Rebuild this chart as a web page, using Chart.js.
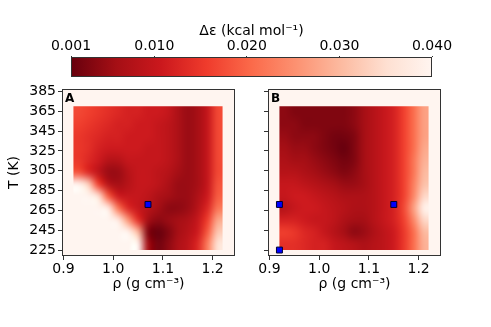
<!DOCTYPE html>
<html>
<head>
<meta charset="utf-8">
<script src="https://cdn.jsdelivr.net/npm/chart.js@4"></script>
<style>
  html, body { margin: 0; padding: 0; background: #fff; }
  #wrap { position: relative; width: 491px; height: 327px; }
  #wrap canvas { position: absolute; left: 0; top: 0; }
</style>
</head>
<body>
<div id="wrap">
  <canvas id="panelA" width="491" height="327"></canvas>
  <canvas id="panelB" width="491" height="327"></canvas>
  <canvas id="cbar" width="491" height="327"></canvas>
</div>
<script>
// grid of the maps: density columns (centres) and temperature rows (centres, top to bottom)
const rhoCenters = [0.93, 0.95, 0.97, 0.99, 1.01, 1.03, 1.05, 1.07, 1.09, 1.11, 1.13, 1.15, 1.17, 1.19, 1.21];
const tempCenters = [364, 352, 340, 328, 316, 303, 291, 279, 267, 255, 243, 231];
const rhoExtent = [0.92, 1.22];
const tempExtent = [225, 370];

// delta epsilon (kcal/mol), panel A
const deltaA = [
  [0.017, 0.016, 0.015, 0.014, 0.013, 0.012, 0.012, 0.011, 0.011, 0.010, 0.007, 0.005, 0.006, 0.010, 0.017],
  [0.016, 0.015, 0.014, 0.013, 0.012, 0.012, 0.011, 0.011, 0.010, 0.009, 0.007, 0.005, 0.006, 0.010, 0.017],
  [0.015, 0.014, 0.013, 0.012, 0.012, 0.011, 0.011, 0.011, 0.010, 0.009, 0.007, 0.005, 0.006, 0.010, 0.017],
  [0.015, 0.014, 0.012, 0.011, 0.011, 0.011, 0.011, 0.010, 0.010, 0.009, 0.007, 0.005, 0.006, 0.010, 0.017],
  [0.015, 0.013, 0.011, 0.008, 0.008, 0.010, 0.010, 0.010, 0.010, 0.009, 0.007, 0.005, 0.006, 0.010, 0.017],
  [0.018, 0.013, 0.009, 0.005, 0.005, 0.008, 0.010, 0.010, 0.009, 0.008, 0.006, 0.005, 0.006, 0.010, 0.017],
  [0.040, 0.033, 0.016, 0.008, 0.006, 0.008, 0.010, 0.010, 0.009, 0.007, 0.005, 0.005, 0.006, 0.010, 0.018],
  [0.040, 0.040, 0.036, 0.019, 0.011, 0.010, 0.010, 0.009, 0.007, 0.006, 0.005, 0.005, 0.007, 0.011, 0.019],
  [0.040, 0.040, 0.040, 0.038, 0.022, 0.013, 0.010, 0.008, 0.006, 0.004, 0.004, 0.005, 0.008, 0.013, 0.022],
  [0.040, 0.040, 0.040, 0.040, 0.038, 0.026, 0.014, 0.006, 0.004, 0.005, 0.006, 0.007, 0.010, 0.016, 0.028],
  [0.040, 0.040, 0.040, 0.040, 0.040, 0.040, 0.030, 0.003, 0.001, 0.003, 0.006, 0.008, 0.011, 0.019, 0.032],
  [0.040, 0.040, 0.040, 0.040, 0.040, 0.040, 0.040, 0.006, 0.002, 0.004, 0.007, 0.009, 0.013, 0.023, 0.036]
];

// delta epsilon (kcal/mol), panel B
const deltaB = [
  [0.004, 0.003, 0.003, 0.003, 0.003, 0.003, 0.003, 0.004, 0.006, 0.008, 0.010, 0.012, 0.016, 0.021, 0.027],
  [0.004, 0.004, 0.003, 0.003, 0.003, 0.003, 0.003, 0.004, 0.006, 0.008, 0.010, 0.012, 0.016, 0.021, 0.027],
  [0.005, 0.004, 0.004, 0.004, 0.003, 0.002, 0.002, 0.003, 0.006, 0.008, 0.010, 0.012, 0.016, 0.021, 0.027],
  [0.006, 0.005, 0.005, 0.004, 0.003, 0.002, 0.001, 0.003, 0.006, 0.008, 0.010, 0.012, 0.016, 0.021, 0.028],
  [0.007, 0.006, 0.006, 0.005, 0.004, 0.003, 0.002, 0.003, 0.006, 0.008, 0.010, 0.012, 0.016, 0.022, 0.029],
  [0.008, 0.008, 0.007, 0.006, 0.005, 0.004, 0.003, 0.004, 0.006, 0.008, 0.010, 0.012, 0.016, 0.022, 0.030],
  [0.010, 0.010, 0.009, 0.008, 0.007, 0.006, 0.005, 0.005, 0.006, 0.008, 0.010, 0.012, 0.016, 0.023, 0.031],
  [0.010, 0.011, 0.011, 0.010, 0.009, 0.008, 0.007, 0.007, 0.007, 0.008, 0.010, 0.012, 0.016, 0.024, 0.034],
  [0.008, 0.010, 0.011, 0.011, 0.010, 0.009, 0.008, 0.007, 0.007, 0.008, 0.010, 0.012, 0.017, 0.027, 0.039],
  [0.012, 0.012, 0.011, 0.010, 0.010, 0.009, 0.007, 0.006, 0.006, 0.008, 0.010, 0.012, 0.016, 0.024, 0.034],
  [0.016, 0.015, 0.013, 0.012, 0.010, 0.008, 0.006, 0.004, 0.005, 0.007, 0.009, 0.011, 0.015, 0.021, 0.030],
  [0.014, 0.014, 0.013, 0.012, 0.012, 0.010, 0.009, 0.008, 0.007, 0.008, 0.009, 0.011, 0.015, 0.021, 0.029]
];

// marked state points
const markA_rho = [1.07];
const markA_T = [271];
const markB_rho = [0.92, 1.15, 0.92];
const markB_T = [271, 271, 225];

// axes
const rhoTicks = [0.9, 1.0, 1.1, 1.2];
const tempTicks = [225, 245, 265, 285, 305, 325, 345, 365, 385];
const cbarTicks = [0.001, 0.010, 0.020, 0.030, 0.040];
const cbarRange = [0.001, 0.040];

Chart.defaults.font.family = '"DejaVu Sans", sans-serif';
Chart.defaults.font.size = 14;
Chart.defaults.color = '#000';

const W = 491, H = 327;
const redsR = ['#67000d', '#a50f15', '#cb181d', '#ef3b2c', '#fb6a4a', '#fc9272', '#fcbba1', '#fee0d2', '#fff5f0'];
const rgbStops = redsR.map(h => [1, 3, 5].map(i => parseInt(h.substr(i, 2), 16)));

function cmap(v) {
  let t = (v - cbarRange[0]) / (cbarRange[1] - cbarRange[0]);
  t = Math.max(0, Math.min(1, t)) * (rgbStops.length - 1);
  const i = Math.min(Math.floor(t), rgbStops.length - 2);
  const f = t - i;
  return rgbStops[i].map((c, k) => Math.round(c + (rgbStops[i + 1][k] - c) * f));
}

const frameColor = '#333';
const tickGrid = { drawOnChartArea: false, drawTicks: true, tickLength: 4, color: frameColor, lineWidth: 1 };

function heatmapPlugin(grid, letter) {
  return {
    id: 'heatmap' + letter,
    beforeDatasetsDraw(chart) {
      const { ctx, chartArea: a, scales: { x, y } } = chart;
      ctx.save();
      ctx.fillStyle = '#fff5f0';
      ctx.fillRect(a.left, a.top, a.right - a.left, a.bottom - a.top);
      // small image, one pixel per cell, edge padded so smoothing clamps
      const nr = grid.length, nc = grid[0].length;
      const off = document.createElement('canvas');
      off.width = nc + 2; off.height = nr + 2;
      const octx = off.getContext('2d');
      const img = octx.createImageData(nc + 2, nr + 2);
      for (let r = 0; r < nr + 2; r++) {
        for (let c = 0; c < nc + 2; c++) {
          const rr = Math.min(Math.max(r - 1, 0), nr - 1);
          const cc = Math.min(Math.max(c - 1, 0), nc - 1);
          const col = cmap(grid[rr][cc]);
          const p = (r * (nc + 2) + c) * 4;
          img.data[p] = col[0]; img.data[p + 1] = col[1]; img.data[p + 2] = col[2]; img.data[p + 3] = 255;
        }
      }
      octx.putImageData(img, 0, 0);
      const x0 = x.getPixelForValue(rhoExtent[0]), x1 = x.getPixelForValue(rhoExtent[1]);
      const y0 = y.getPixelForValue(tempExtent[1]), y1 = y.getPixelForValue(tempExtent[0]);
      ctx.imageSmoothingEnabled = true;
      ctx.imageSmoothingQuality = 'high';
      ctx.beginPath();
      ctx.rect(x0, y0, x1 - x0, y1 - y0);
      ctx.clip();
      ctx.drawImage(off, 1, 1, nc, nr, x0, y0, x1 - x0, y1 - y0);
      ctx.restore();
    },
    afterDraw(chart) {
      const { ctx, chartArea: a } = chart;
      ctx.save();
      ctx.strokeStyle = frameColor;
      ctx.lineWidth = 1;
      ctx.strokeRect(Math.round(a.left) + 0.5, Math.round(a.top) + 0.5,
        Math.round(a.right - a.left) - 1, Math.round(a.bottom - a.top) - 1);
      ctx.fillStyle = '#000';
      ctx.font = 'bold 12px "DejaVu Sans"';
      ctx.textBaseline = 'top';
      ctx.fillText(letter, a.left + 3, a.top + 4);
      ctx.restore();
    }
  };
}

function panel(id, grid, mRho, mT, letter, area, yLabels) {
  const yw = yLabels ? 56 : 6;
  const xh = 37;
  new Chart(document.getElementById(id), {
    type: 'scatter',
    data: {
      datasets: [{
        data: mRho.map((r, i) => ({ x: r, y: mT[i] })),
        pointStyle: 'rect',
        radius: 4.2,
        hoverRadius: 4.2,
        backgroundColor: '#0000ff',
        borderColor: '#000030',
        borderWidth: 1
      }]
    },
    options: {
      responsive: false,
      animation: false,
      events: [],
      layout: { padding: { left: area.left - yw, right: W - area.right, top: area.top, bottom: H - area.bottom - xh } },
      plugins: { legend: { display: false }, tooltip: { enabled: false } },
      scales: {
        x: {
          type: 'linear', min: 0.897, max: 1.245,
          afterBuildTicks: s => { s.ticks = rhoTicks.map(v => ({ value: v })); },
          afterFit: s => { s.height = xh; },
          ticks: { autoSkip: false, maxRotation: 0, padding: 1, callback: v => v.toFixed(1) },
          grid: tickGrid,
          border: { display: false },
          title: { display: true, text: 'ρ (g cm⁻³)', padding: { top: 0, bottom: 0 } }
        },
        y: {
          type: 'linear', min: 219, max: 387.5,
          afterBuildTicks: s => { s.ticks = tempTicks.map(v => ({ value: v })); },
          afterFit: s => { s.width = yw; },
          ticks: { display: yLabels, autoSkip: false, padding: 2, callback: v => String(v) },
          grid: tickGrid,
          border: { display: false },
          title: { display: yLabels, text: 'T (K)', padding: { top: 0, bottom: 0 } }
        }
      }
    },
    plugins: [heatmapPlugin(grid, letter)]
  });
}

panel('panelA', deltaA, markA_rho, markA_T, 'A', { left: 62, right: 235, top: 89, bottom: 256 }, true);
panel('panelB', deltaB, markB_rho, markB_T, 'B', { left: 268, right: 441, top: 89, bottom: 256 }, false);

// colour bar
const cbArea = { left: 71, right: 432, top: 57, bottom: 77 };
const cbh = 34;
new Chart(document.getElementById('cbar'), {
  type: 'scatter',
  data: { datasets: [] },
  options: {
    responsive: false,
    animation: false,
    events: [],
    layout: { padding: { left: cbArea.left, right: W - cbArea.right, top: cbArea.top - cbh, bottom: H - cbArea.bottom } },
    plugins: { legend: { display: false }, tooltip: { enabled: false } },
    scales: {
      x: {
        type: 'linear', position: 'top', min: cbarRange[0], max: cbarRange[1],
        afterBuildTicks: s => { s.ticks = cbarTicks.map(v => ({ value: v })); },
        afterFit: s => { s.height = cbh; },
        ticks: { autoSkip: false, maxRotation: 0, padding: 1, callback: v => v.toFixed(3) },
        grid: { drawOnChartArea: false, drawTicks: true, tickLength: 1, color: frameColor, lineWidth: 1 },
        border: { display: false },
        title: { display: true, text: 'Δε (kcal mol⁻¹)', padding: { top: 0, bottom: 0 } }
      },
      y: { display: false, min: 0, max: 1 }
    }
  },
  plugins: [{
    id: 'cbarFill',
    afterDraw(chart) {
      const { ctx, chartArea: a, scales: { x } } = chart;
      const x0 = x.getPixelForValue(cbarRange[0]), x1 = x.getPixelForValue(cbarRange[1]);
      const g = ctx.createLinearGradient(x0, 0, x1, 0);
      redsR.forEach((c, i) => g.addColorStop(i / (redsR.length - 1), c));
      ctx.save();
      ctx.fillStyle = g;
      ctx.fillRect(x0, a.top, x1 - x0, a.bottom - a.top);
      ctx.strokeStyle = frameColor;
      ctx.lineWidth = 1;
      ctx.strokeRect(Math.round(a.left) + 0.5, Math.round(a.top) + 0.5,
        Math.round(a.right - a.left) - 1, Math.round(a.bottom - a.top) - 1);
      ctx.restore();
    }
  }]
});
</script>
</body>
</html>
